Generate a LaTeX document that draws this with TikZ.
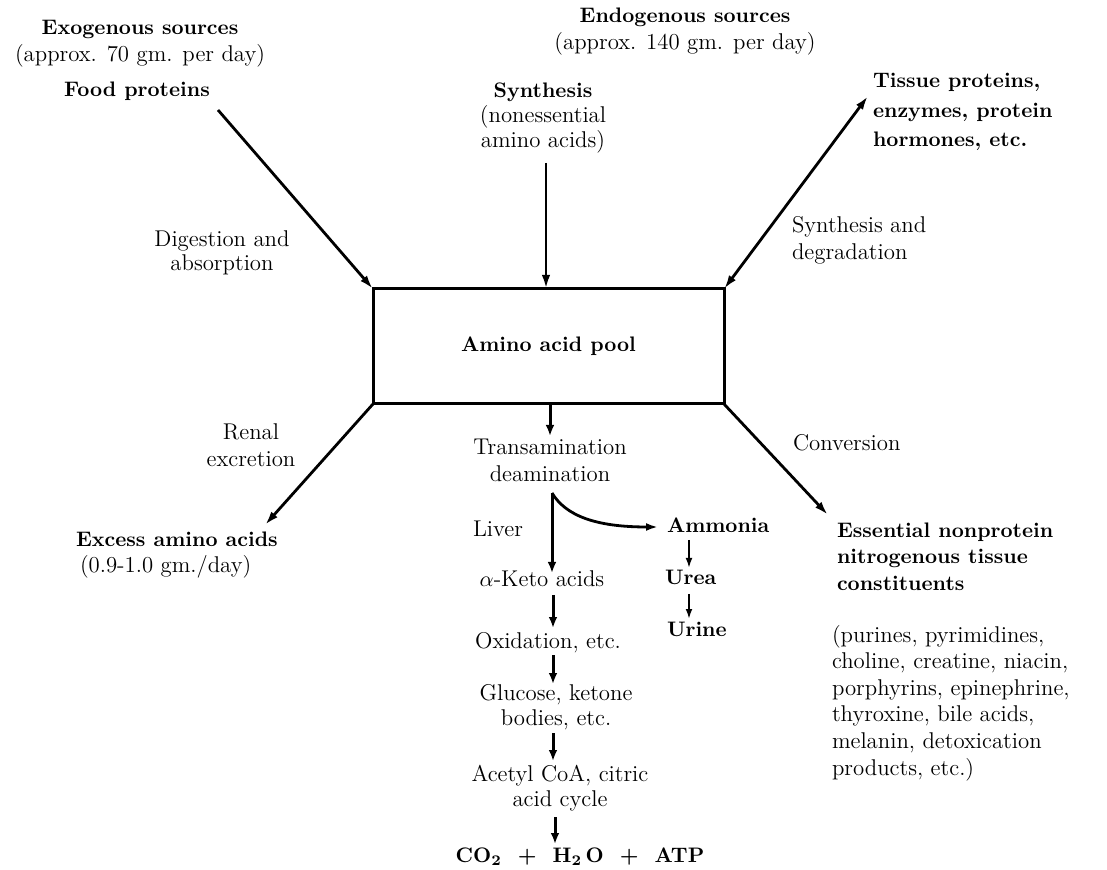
\documentclass[tikz,border=0pt]{standalone}
\usepackage{fontspec}
\usetikzlibrary{arrows.meta}
\newcommand\bfx{\fontsize{10.5}{13.5}\selectfont\bfseries}
\begin{document}
\begin{tikzpicture}[x=0.5pt,y=-0.5pt,
  rg/.style={font=\fontsize{11.4}{13.5}\selectfont, inner sep=0pt, outer sep=0pt},
  bd/.style={font=\bfx, inner sep=0pt, outer sep=0pt},
  mainarr/.style={line width=1.4pt, -{Latex[length=7pt,width=4.2pt]}},
  chainarr/.style={line width=1.5pt, -{Latex[length=5.5pt,width=4.4pt]}},
  smallarr/.style={line width=0.9pt, -{Latex[length=5pt,width=3.4pt]}},
]
\useasboundingbox (0,0) rectangle (1107,870);
\fill[white] (0,0) rectangle (1107,870);

% central box
\node[draw, line width=1.5pt, inner sep=0pt, outer sep=0pt,
      minimum width=175.5pt, minimum height=57.5pt,
      font=\bfx] (pool) at (548.5,346.5) {Amino acid pool};

% top left (anchor base = baseline of last line)
\node[rg, anchor=base, align=center] (exo) at (140,62)
  {{\bfx Exogenous sources}\\(approx. 70 gm. per day)};
\node[bd, anchor=base] (food) at (137,97) {Food proteins};
\node[rg, anchor=base, align=center] (dig) at (222,271) {Digestion and\\[-1.5pt]absorption};

% top middle
\node[rg, anchor=base, align=center] (endo) at (685,50)
  {{\bfx Endogenous sources}\\(approx. 140 gm. per day)};
\node[rg, anchor=base, align=center] (synth) at (543,148)
  {{\bfx Synthesis}\\[-0.8pt](nonessential\\[-0.8pt]amino acids)};

% top right
\node[bd, anchor=base west, align=left, font=\fontsize{10.5}{14.75}\selectfont\bfseries] (tissue) at (873,147)
  {Tissue proteins,\\enzymes, protein\\hormones, etc.};
\node[rg, anchor=base west, align=left] (sdeg) at (792,260) {Synthesis and\\degradation};

% lower left
\node[rg, anchor=base, align=center] (renal) at (251,467) {Renal\\excretion};
\node[rg, anchor=base west, align=left] (excess) at (76,573)
  {{\bfx Excess amino acids}\\[-0.5pt]\hspace*{2pt}(0.9-1.0 gm./day)};

% lower right
\node[rg, anchor=base west] (conv) at (793,451) {Conversion};
\node[bd, anchor=base west, align=left, font=\fontsize{10.5}{13.25}\selectfont\bfseries] (ess) at (837,590)
  {Essential nonprotein\\nitrogenous tissue\\constituents};
\node[rg, anchor=base west, align=left, font=\fontsize{11.4}{13.3}\selectfont] (pur) at (832,775)
  {(purines, pyrimidines,\\choline, creatine, niacin,\\porphyrins, epinephrine,\\thyroxine, bile acids,\\melanin, detoxication\\products, etc.)};

% central column
\node[rg, anchor=base, align=center] (trans) at (550,482) {Transamination\\deamination};
\node[rg, anchor=base west] (liver) at (473,537) {Liver};
\node[rg, anchor=base] (keto) at (542,587) {$\alpha$-Keto acids};
\node[rg, anchor=base] (oxid) at (548,648) {Oxidation, etc.};
\node[rg, anchor=base, align=center] (gluc) at (556,725) {Glucose, ketone\\[-1pt]bodies, etc.};
\node[rg, anchor=base, align=center] (acetyl) at (560,806) {Acetyl CoA, citric\\[-1pt]acid cycle};
\node[bd, anchor=base] (co2) at (580,862) {CO\textsubscript{2}\ \ + \ H\textsubscript{2}\,O \ + \ ATP};

\node[bd, anchor=base west] (amm) at (667,533) {Ammonia};
\node[bd, anchor=base west] (urea) at (665,585) {Urea};
\node[bd, anchor=base west] (urine) at (667,636) {Urine};

% coordinates for free ends
\coordinate (foodS) at (218,110);
\coordinate (synS) at (546,163);
\coordinate (synE) at (546,289);
\coordinate (tisT) at (868,96);
\coordinate (renT) at (265,525);
\coordinate (convT) at (828,515);
\coordinate (poolB) at (550,404);
\coordinate (transT) at (550,436);
\coordinate (split) at (552,493);
\coordinate (livT) at (552,573);
\coordinate (ammT) at (658,527);
\coordinate (a1) at (689,540); \coordinate (a2) at (689,568);
\coordinate (b1) at (689,594); \coordinate (b2) at (689,619);
\coordinate (c1) at (553,595); \coordinate (c2) at (553,628);
\coordinate (d1) at (553,655); \coordinate (d2) at (553,684);
\coordinate (e1) at (553,733); \coordinate (e2) at (553,761);
\coordinate (f1) at (555,817); \coordinate (f2) at (555,844);

% connectors
\draw[mainarr] (foodS) -- (pool.north west);
\draw[mainarr] (synS) -- (synE);
\draw[mainarr, {Latex[length=7pt,width=4.2pt]}-{Latex[length=7pt,width=4.2pt]}] (pool.north east) -- (tisT);
\draw[mainarr] (pool.south west) -- (renT);
\draw[mainarr] (pool.south east) -- (convT);
\draw[chainarr] (poolB) -- (transT);
\draw[chainarr] (split) -- (livT);
\draw[line width=1.4pt, -{Latex[length=6pt,width=4pt]}] (split) .. controls (566,516) and (596,527) .. (ammT);
\draw[smallarr] (a1) -- (a2);
\draw[smallarr] (b1) -- (b2);
\draw[chainarr] (c1) -- (c2);
\draw[chainarr] (d1) -- (d2);
\draw[chainarr] (e1) -- (e2);
\draw[chainarr] (f1) -- (f2);
\end{tikzpicture}
\end{document}
